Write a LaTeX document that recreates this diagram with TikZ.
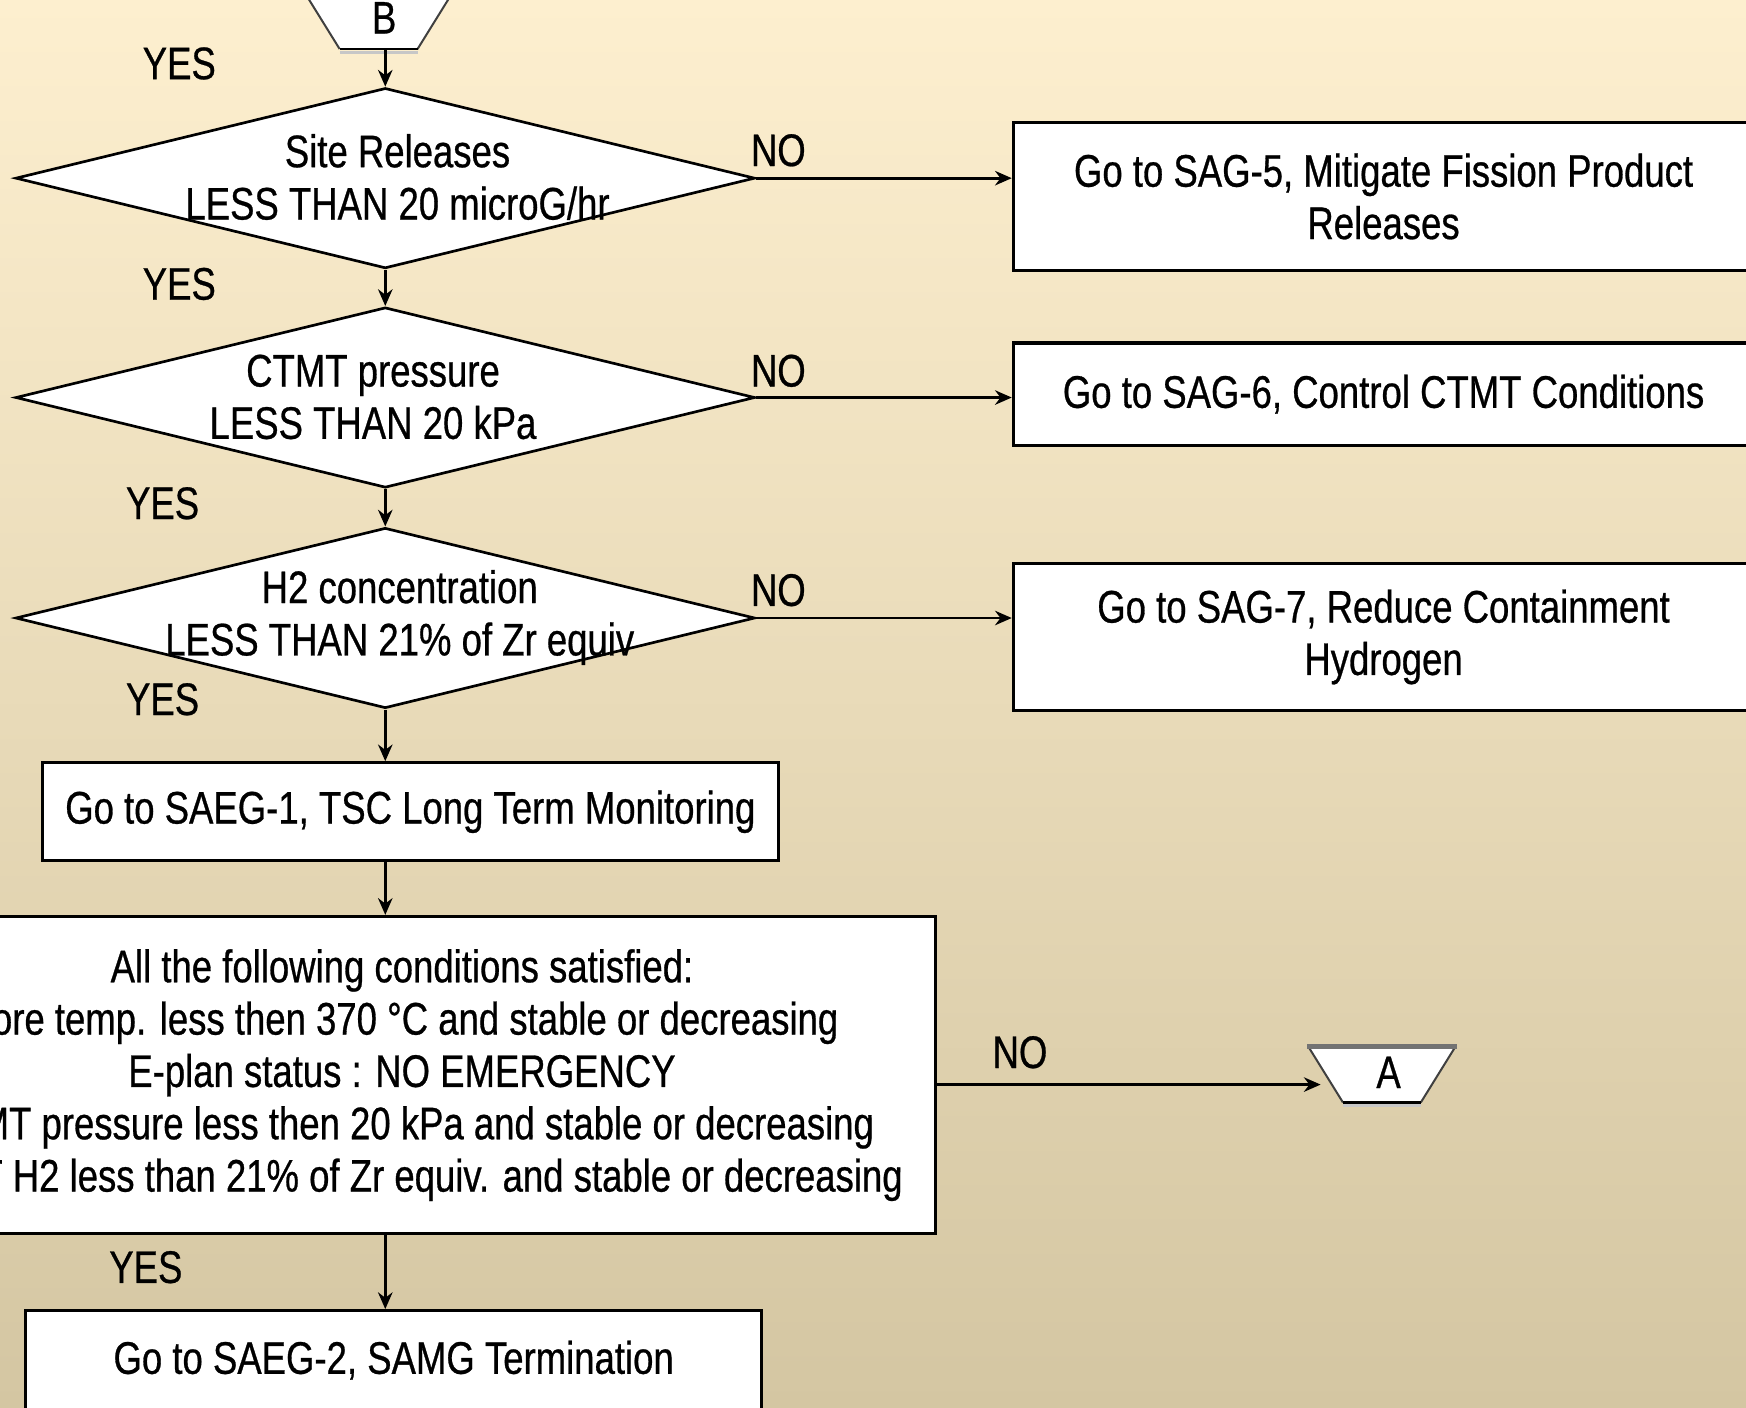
\documentclass[tikz,border=0pt]{standalone}
\usepackage{fontspec}
\setmainfont{Liberation Sans}[FakeStretch=0.8,FakeBold=0.6]
\usetikzlibrary{arrows.meta,shapes.geometric,calc}
\definecolor{bgtop}{RGB}{253,239,207}
\definecolor{bgmid}{RGB}{241,233,212}
\definecolor{bgbot}{RGB}{212,198,162}
\newcommand{\mytrap}[1]{%
  \fill[white] ($(#1)+(-66,-25)$) -- ($(#1)+(66,-25)$) -- ($(#1)+(35,25)$) -- ($(#1)+(-35,25)$) -- cycle;
  \draw[line width=1.2pt, black!22] ($(#1)+(-35,28)$) -- ($(#1)+(35,28)$);
  \draw[line width=0.9pt, black!75] ($(#1)+(-66,-25)$) -- ($(#1)+(-35,25)$) ($(#1)+(66,-25)$) -- ($(#1)+(35,25)$);
  \draw[line width=1.3pt] ($(#1)+(-35,25)$) -- ($(#1)+(35,25)$);
  \draw[line width=2pt, black!55] ($(#1)+(-67,-25)$) -- ($(#1)+(67,-25)$);
}
\begin{document}
\begin{tikzpicture}[x=0.5pt,y=-0.5pt,
  lbl/.style={font=\fontsize{20.5}{23.5}\selectfont, inner sep=0pt},
  txt/.style={lbl, align=center},
  box/.style={draw, line width=1.4pt, fill=white, align=center, inner sep=0pt, font=\fontsize{20.5}{23.5}\selectfont},
  dia/.style={draw, line width=1.2pt, fill=white, diamond, minimum width=332pt, minimum height=81pt, inner sep=0pt},
  arr/.style={line width=1.2pt, -{Stealth[length=7.5pt,width=6.5pt]}},
]
\useasboundingbox (0,0) rectangle (1568,1264);
\clip (0,0) rectangle (1568,1264);
\shade[top color=bgtop, middle color=bgmid, bottom color=bgbot] (0,0) rectangle (1568,1264);

% connectors B and A shapes
\coordinate (Bc) at (340,19);
\mytrap{Bc}
\node[lbl] (B) at (345,16) {B};
\coordinate (Bb) at (346,44);

\coordinate (Ac) at (1241,965);
\mytrap{Ac}
\node[lbl] (A) at (1247,963) {A};
\coordinate (Atip) at (1186,974);

% decisions
\node[dia] (d1) at (346,160) {};
\node[txt] (t1) at (357,159) {Site Releases\\LESS THAN 20 microG/hr};
\node[dia] (d2) at (346,357) {};
\node[txt] (t2) at (335,356.5) {CTMT pressure\\LESS THAN 20 kPa};
\node[dia] (d3) at (346,555) {};
\node[txt] (t3) at (359,554.5) {H2 concentration\\LESS THAN 21\% of Zr equiv};

% right boxes
\node[box, minimum width=332.5pt, minimum height=66.5pt] (s5) at (1242.5,176.5) {Go to SAG-5, Mitigate Fission Product\\Releases};
\node[box, minimum width=332.5pt, minimum height=46pt] (s6) at (1242.5,354) {Go to SAG-6, Control CTMT Conditions};
\node[box, minimum width=332.5pt, minimum height=66pt] (s7) at (1242.5,572) {Go to SAG-7, Reduce Containment\\Hydrogen};

% main column
\node[box, minimum width=330.5pt, minimum height=44pt] (s1) at (368.5,729) {Go to SAEG-1, TSC Long Term Monitoring};
\node[box, minimum width=479pt, minimum height=142.5pt] (big) at (361,965.5) {All the following conditions satisfied:\\Core temp. less then 370 °C and stable or decreasing\\E-plan status : NO EMERGENCY\\CTMT pressure less then 20 kPa and stable or decreasing\\CTMT H2 less than 21\% of Zr equiv. and stable or decreasing};
\node[box, minimum width=330.5pt, minimum height=44.5pt] (s2) at (353.5,1221.5) {Go to SAEG-2, SAMG Termination};

% connectors
\draw[arr] (Bb) -- (d1.north);
\draw[arr] (d1.south) -- (d2.north);
\draw[arr] (d2.south) -- (d3.north);
\draw[arr] (d3.south) -- (d3.south |- s1.north);
\draw[arr] (s1.south -| d3.south) -- (d3.south |- big.north);
\draw[arr] (big.south -| d3.south) -- (d3.south |- s2.north);
\draw[arr] (d1.east) -- (d1.east -| s5.west);
\draw[arr] (d2.east) -- (d2.east -| s6.west);
\draw[arr] (d3.east) -- (d3.east -| s7.west);
\draw[arr] (big.east |- Atip) -- (Atip);

% labels
\node[lbl] (y1) at (161,57) {YES};
\node[lbl] (y2) at (161,255) {YES};
\node[lbl] (y3) at (146,452) {YES};
\node[lbl] (y4) at (146,628) {YES};
\node[lbl] (y5) at (131,1138) {YES};
\node[lbl] (n1) at (699,135) {NO};
\node[lbl] (n2) at (699,333) {NO};
\node[lbl] (n3) at (699,530) {NO};
\node[lbl] (n4) at (916,945) {NO};
\end{tikzpicture}
\end{document}
